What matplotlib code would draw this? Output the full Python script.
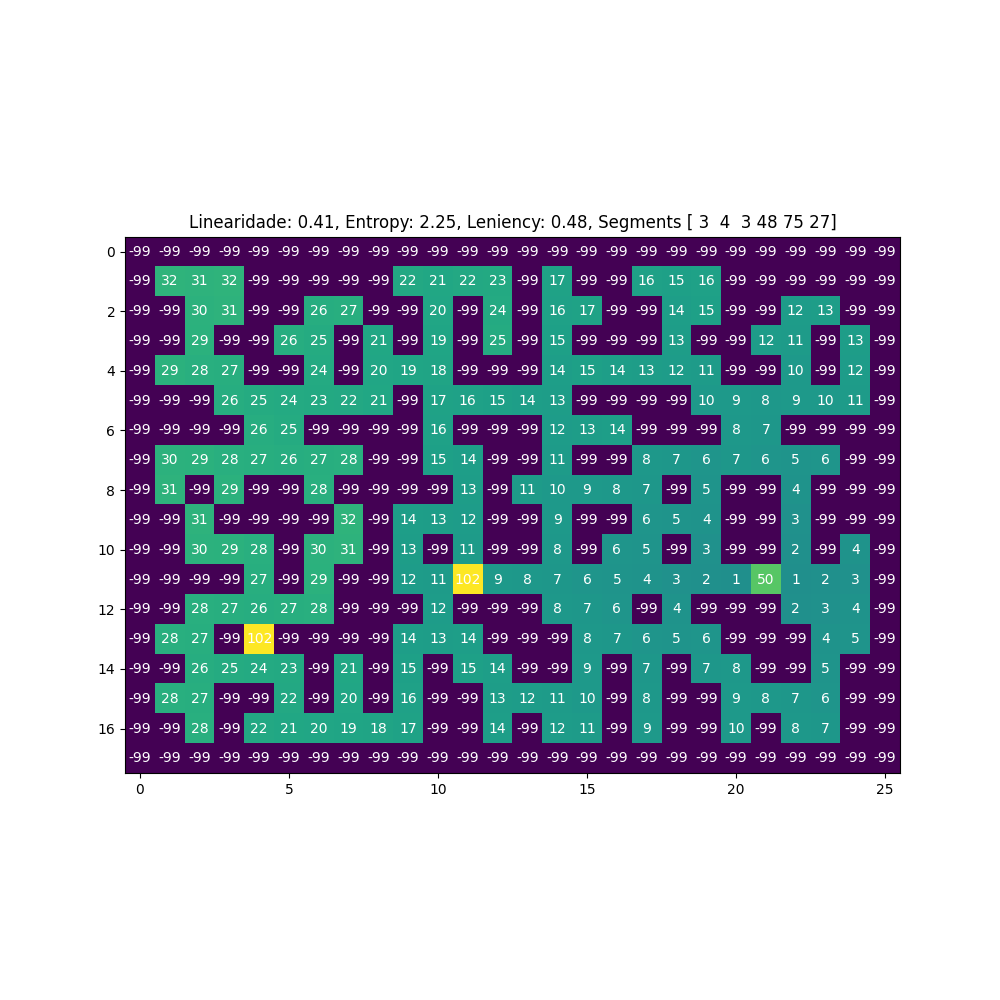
import numpy as np
import matplotlib
matplotlib.use('Agg')
import matplotlib.pyplot as plt

W = -99
grid_rows = [
    [W] * 26,
    [W, 32, 31, 32, W, W, W, W, W, 22, 21, 22, 23, W, 17, W, W, 16, 15, 16, W, W, W, W, W, W],
    [W, W, 30, 31, W, W, 26, 27, W, W, 20, W, 24, W, 16, 17, W, W, 14, 15, W, W, 12, 13, W, W],
    [W, W, 29, W, W, 26, 25, W, 21, W, 19, W, 25, W, 15, W, W, W, 13, W, W, 12, 11, W, 13, W],
    [W, 29, 28, 27, W, W, 24, W, 20, 19, 18, W, W, W, 14, 15, 14, 13, 12, 11, W, W, 10, W, 12, W],
    [W, W, W, 26, 25, 24, 23, 22, 21, W, 17, 16, 15, 14, 13, W, W, W, W, 10, 9, 8, 9, 10, 11, W],
    [W, W, W, W, 26, 25, W, W, W, W, 16, W, W, W, 12, 13, 14, W, W, W, 8, 7, W, W, W, W],
    [W, 30, 29, 28, 27, 26, 27, 28, W, W, 15, 14, W, W, 11, W, W, 8, 7, 6, 7, 6, 5, 6, W, W],
    [W, 31, W, 29, W, W, 28, W, W, W, W, 13, W, 11, 10, 9, 8, 7, W, 5, W, W, 4, W, W, W],
    [W, W, 31, W, W, W, W, 32, W, 14, 13, 12, W, W, 9, W, W, 6, 5, 4, W, W, 3, W, W, W],
    [W, W, 30, 29, 28, W, 30, 31, W, 13, W, 11, W, W, 8, W, 6, 5, W, 3, W, W, 2, W, 4, W],
    [W, W, W, W, 27, W, 29, W, W, 12, 11, 102, 9, 8, 7, 6, 5, 4, 3, 2, 1, 50, 1, 2, 3, W],
    [W, W, 28, 27, 26, 27, 28, W, W, W, 12, W, W, W, 8, 7, 6, W, 4, W, W, W, 2, 3, 4, W],
    [W, 28, 27, W, 102, W, W, W, W, 14, 13, 14, W, W, W, 8, 7, 6, 5, 6, W, W, W, 4, 5, W],
    [W, W, 26, 25, 24, 23, W, 21, W, 15, W, 15, 14, W, W, 9, W, 7, W, 7, 8, W, W, 5, W, W],
    [W, 28, 27, W, W, 22, W, 20, W, 16, W, W, 13, 12, 11, 10, W, 8, W, W, 9, 8, 7, 6, W, W],
    [W, W, 28, W, 22, 21, 20, 19, 18, 17, W, W, 14, W, 12, 11, W, 9, W, W, 10, W, 8, 7, W, W],
    [W] * 26,
]
title = 'Linearidade: 0.41, Entropy: 2.25, Leniency: 0.48, Segments [ 3  4  3 48 75 27]'

data = np.array(grid_rows)

fig, ax = plt.subplots(figsize=(10, 10))
ax.imshow(data, cmap='viridis')
for i in range(data.shape[0]):
    for j in range(data.shape[1]):
        ax.text(j, i, str(data[i, j]), ha='center', va='center', color='w')
ax.set_title(title)
fig.savefig('out.png', dpi=100)
plt.close(fig)
